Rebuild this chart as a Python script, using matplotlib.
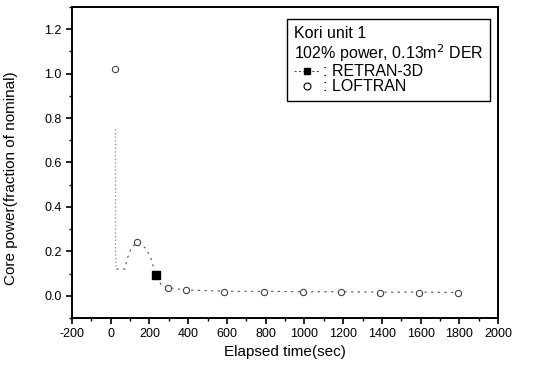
import matplotlib.pyplot as plt
from matplotlib.lines import Line2D
from matplotlib.ticker import MultipleLocator

plt.rcParams['font.family'] = ['Liberation Sans', 'DejaVu Sans']
plt.rcParams['axes.unicode_minus'] = False

# RETRAN-3D core power trace (dashed) with its marker
retran_t = [30, 73, 83, 108, 144, 185, 211, 232, 263, 298, 350, 420, 600, 800, 1000, 1200, 1400, 1600, 1800]
retran_p = [0.12, 0.12, 0.16, 0.22, 0.24, 0.21, 0.16, 0.095, 0.045, 0.036, 0.03, 0.025, 0.02, 0.02, 0.018, 0.018, 0.016, 0.016, 0.015]
retran_mark_t = [232]
retran_mark_p = [0.095]

# LOFTRAN: trip drop (dotted) and open circle points
loftran_line_t = [25, 25, 28]
loftran_line_p = [0.75, 0.19, 0.12]
loftran_t = [20, 135, 295, 390, 585, 790, 990, 1190, 1390, 1590, 1790]
loftran_p = [1.02, 0.24, 0.035, 0.025, 0.018, 0.016, 0.015, 0.015, 0.014, 0.014, 0.014]

fig = plt.figure(figsize=(5.53, 3.68), dpi=100)
ax = fig.add_axes([0.130, 0.136, 0.771, 0.845])

ax.plot(loftran_line_t, loftran_line_p, color='#999999', linestyle=':', linewidth=1.0)
ax.plot(retran_t, retran_p, color='#555555', linestyle=(0, (2, 4)), linewidth=0.8)
ax.plot(retran_mark_t, retran_mark_p, linestyle='none', marker='s', markersize=6,
        color='black')
ax.plot(loftran_t, loftran_p, linestyle='none', marker='o', markersize=4.5,
        markerfacecolor='white', markeredgecolor='#444444', markeredgewidth=0.8)

ax.set_xlim(-200, 2000)
ax.set_ylim(-0.1, 1.3)
ax.set_xticks(range(-200, 2001, 200))
ax.set_yticks([0.0, 0.2, 0.4, 0.6, 0.8, 1.0, 1.2])
ax.set_yticklabels(['0.0', '0.2', '0.4', '0.6', '0.8', '1.0', '1.2'])
ax.xaxis.set_minor_locator(MultipleLocator(100))
ax.yaxis.set_minor_locator(MultipleLocator(0.1))
ax.tick_params(which='major', direction='out', length=4, width=1.2, labelsize=9)
ax.tick_params(which='minor', direction='out', length=2.5, width=1.0)
ax.tick_params(top=False, right=False)
for s in ax.spines.values():
    s.set_linewidth(1.4)

ax.set_xlabel('Elapsed time(sec)', fontsize=11, labelpad=3)
ax.set_ylabel('Core power(fraction of nominal)', fontsize=11)
ax.yaxis.set_label_coords(-0.127, 0.45)

handles = [
    Line2D([], [], color='#555555', linestyle=(0, (2, 2)), linewidth=0.8,
           marker='s', markersize=5, markerfacecolor='black', markeredgecolor='black'),
    Line2D([], [], linestyle='none', marker='o', markersize=5,
           markerfacecolor='white', markeredgecolor='black', markeredgewidth=0.8),
]
leg = ax.legend(handles, [': RETRAN-3D', ': LOFTRAN'],
                title='Kori unit 1\n102% power, 0.13m$^2$ DER',
                loc='upper right', bbox_to_anchor=(0.98, 0.96),
                fontsize=11.5, title_fontsize=11.5, handlelength=1.6,
                handletextpad=0.2, borderpad=0.4, labelspacing=0.0,
                borderaxespad=0, fancybox=False, framealpha=1, edgecolor='black')
leg._legend_box.align = 'left'
leg.get_title().set_linespacing(1.1)
leg.get_frame().set_linewidth(1.0)

fig.savefig('out.png', dpi=100)
